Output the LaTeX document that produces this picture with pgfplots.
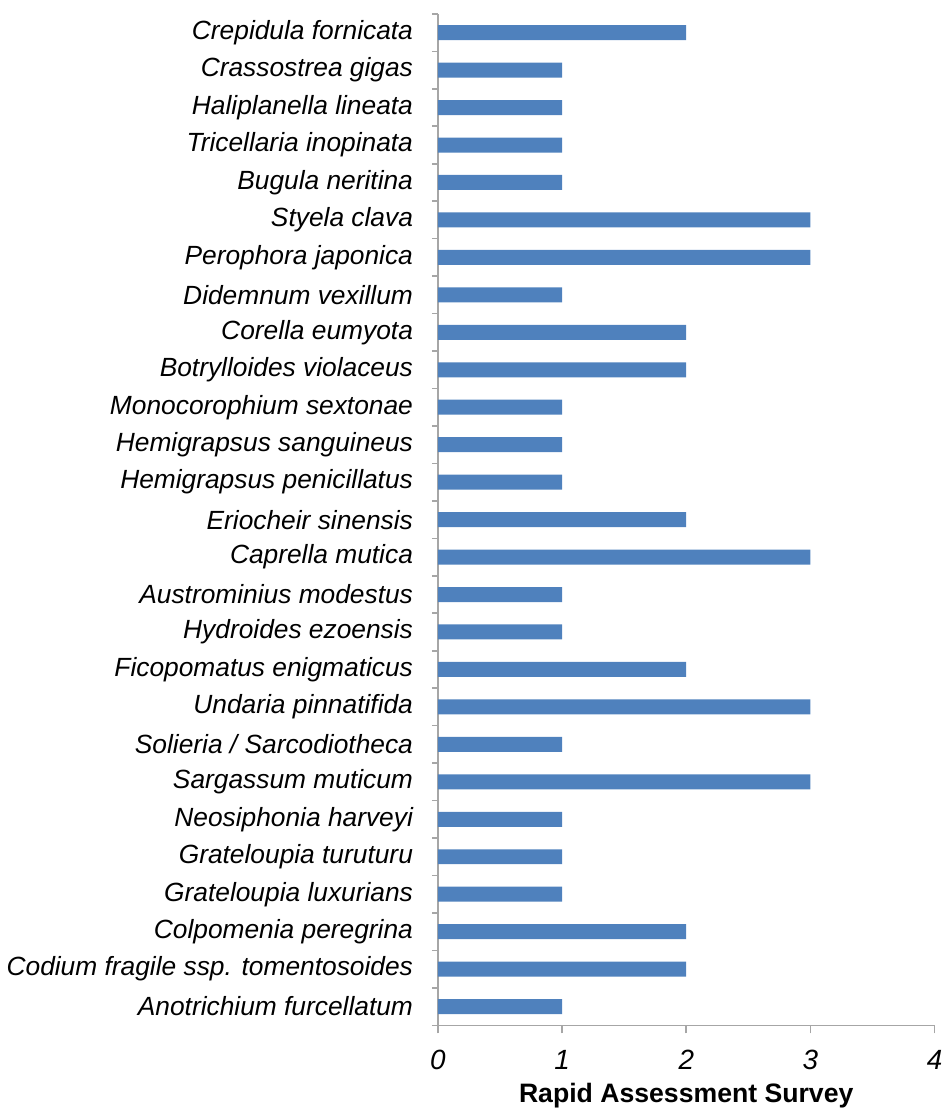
\documentclass[border=0pt]{standalone}
\usepackage{fontspec}
\setmainfont{Liberation Sans}
\usepackage{pgfplots}
\pgfplotsset{compat=1.18}
\definecolor{barblue}{HTML}{4F81BD}
\definecolor{axisgray}{HTML}{A6A6A6}

\begin{document}
\begin{tikzpicture}
\begin{axis}[
    name=ax,
    scale only axis,
    width=250pt, height=509pt,
    xbar, bar width=0.4,
    xmin=0, xmax=4, ymin=-0.5, ymax=26.5,
    axis x line*=bottom, axis y line*=left,
    axis line style={axisgray, line width=0.8pt},
    xtick={0,1,2,3,4},
    ytick={0,...,26},
    minor ytick={-0.5,0.5,...,26.5},
    yticklabels={Anotrichium furcellatum, Codium fragile ssp. tomentosoides, Colpomenia peregrina, Grateloupia luxurians, Grateloupia turuturu, Neosiphonia harveyi, Sargassum muticum, Solieria / Sarcodiotheca, Undaria pinnatifida, Ficopomatus enigmaticus, Hydroides ezoensis, Austrominius modestus, Caprella mutica, Eriocheir sinensis, Hemigrapsus penicillatus, Hemigrapsus sanguineus, Monocorophium sextonae, Botrylloides violaceus, Corella eumyota, Didemnum vexillum, Perophora japonica, Styela clava, Bugula neritina, Tricellaria inopinata, Haliplanella lineata, Crassostrea gigas, Crepidula fornicata},
    tick align=outside,
    major tick length=4pt, minor tick length=3pt,
    tick style={axisgray, line width=0.8pt},
    major y tick style={draw=none},
    xticklabel style={font=\fontsize{14}{16}\selectfont\itshape, yshift=-5pt},
    yticklabel style={font=\fontsize{13.25}{16}\selectfont\itshape, xshift=-5pt},
    /pgf/number format/assume math mode=true,
    xlabel={Rapid Assessment Survey},
    xlabel style={font=\fontsize{13.4}{16}\selectfont\bfseries},
]
\addplot[fill=barblue, draw=none] coordinates {
    (1,0) (2,1) (2,2) (1,3) (1,4) (1,5) (3,6) (1,7) (3,8) (2,9)
    (1,10) (1,11) (3,12) (2,13) (1,14) (1,15) (1,16) (2,17) (2,18) (1,19)
    (3,20) (3,21) (1,22) (1,23) (1,24) (1,25) (2,26)
};
\end{axis}
\path ([yshift=7pt]ax.north west);
\path ([xshift=6pt]ax.south east);
\end{tikzpicture}
\end{document}
